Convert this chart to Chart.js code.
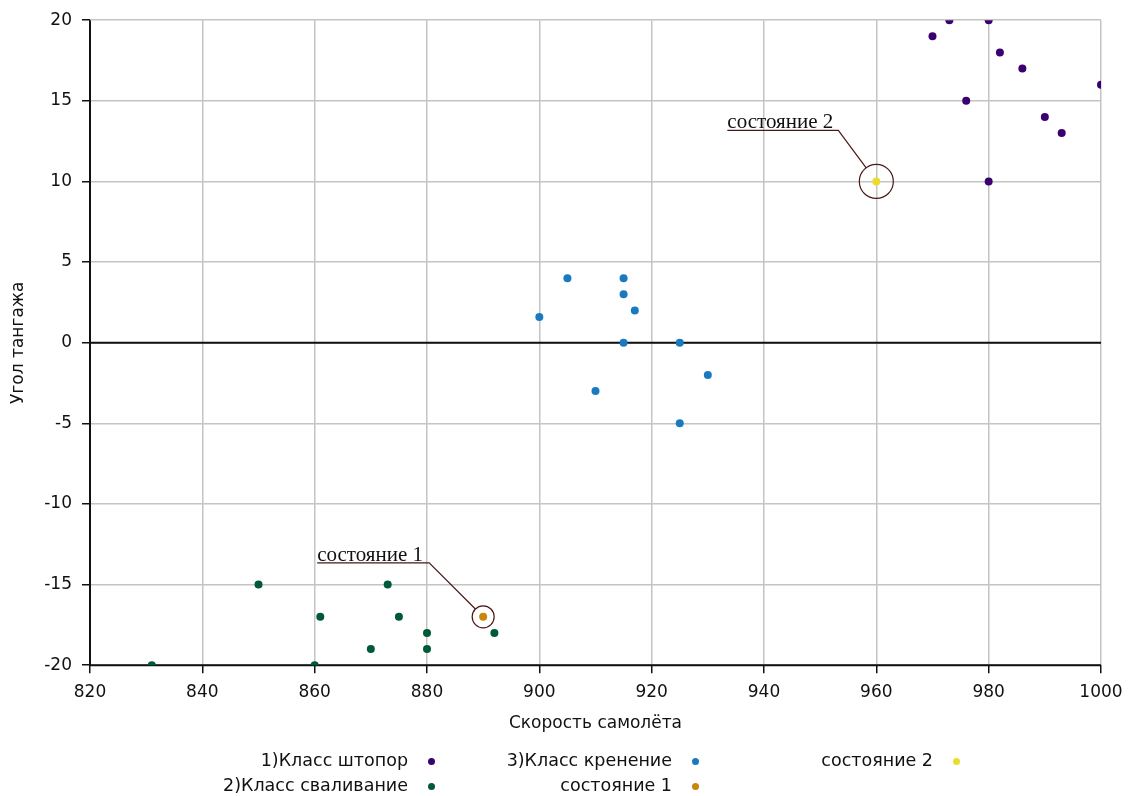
<!DOCTYPE html>
<html>
<head>
<meta charset="utf-8">
<script src="https://cdn.jsdelivr.net/npm/chart.js@4/dist/chart.umd.min.js"></script>
<style>
  html, body { margin: 0; padding: 0; background: #fff; }
  #wrap { position: relative; width: 1129px; height: 796px; }
  #legenda { position: absolute; left: 0; top: 748px; width: 1129px; height: 48px;
    font-family: "DejaVu Sans", sans-serif; font-size: 17.5px; color: #111; }
  .item { position: absolute; white-space: nowrap; text-align: right; }
  .dot { display: inline-block; width: 7px; height: 7px; border-radius: 50%; margin-left: 20px; vertical-align: middle; }
</style>
</head>
<body>
<div id="wrap">
  <canvas id="grafico" width="1129" height="796"></canvas>
  <div id="legenda"></div>
</div>
<script>
// данные классов (скорость, угол тангажа)
const shtoporX = [970, 973, 980, 982, 986, 1000, 976, 990, 993, 980];
const shtoporY = [19, 20, 20, 18, 17, 16, 15, 14, 13, 10];

const svalX = [831, 850, 873, 861, 875, 880, 870, 880, 892, 860];
const svalY = [-20, -15, -15, -17, -17, -18, -19, -19, -18, -20];

const krenX = [905, 915, 915, 917, 900, 915, 925, 930, 910, 925];
const krenY = [4, 4, 3, 2, 1.6, 0, 0, -2, -3, -5];

const sost1X = [890];
const sost1Y = [-17];
const sost2X = [960];
const sost2Y = [10];

const seriesNames = ['1)Класс штопор', '2)Класс сваливание', '3)Класс кренение', 'состояние 1', 'состояние 2'];
const seriesColors = ['#3a0070', '#005a38', '#1a7abf', '#c8860a', '#e8dc30'];

function pontos(xs, ys) {
  return xs.map((x, i) => ({ x: x, y: ys[i] }));
}

const datasets = [
  pontos(shtoporX, shtoporY),
  pontos(svalX, svalY),
  pontos(krenX, krenY),
  pontos(sost1X, sost1Y),
  pontos(sost2X, sost2Y)
].map((d, i) => ({
  label: seriesNames[i],
  data: d,
  backgroundColor: seriesColors[i],
  borderColor: seriesColors[i],
  pointRadius: 4,
  borderWidth: 0
}));

// выноски "состояние 1/2"
const annotPlugin = {
  id: 'vynoski',
  afterDatasetsDraw(chart) {
    const ctx = chart.ctx;
    const xs = chart.scales.x, ys = chart.scales.y;
    const notes = [
      { ds: 3, r: 11, dx: -54, dy: -54, w: 112 },
      { ds: 4, r: 17, dx: -38, dy: -51, w: 111 }
    ];
    notes.forEach(n => {
      const p = chart.data.datasets[n.ds].data[0];
      const cx = xs.getPixelForValue(p.x), cy = ys.getPixelForValue(p.y);
      ctx.save();
      ctx.strokeStyle = '#4a1818';
      ctx.lineWidth = 1.2;
      ctx.beginPath();
      ctx.arc(cx, cy, n.r, 0, Math.PI * 2);
      ctx.stroke();
      const ex = cx + n.dx, ey = cy + n.dy;
      const ang = Math.atan2(ey - cy, ex - cx);
      ctx.beginPath();
      ctx.moveTo(cx + Math.cos(ang) * n.r, cy + Math.sin(ang) * n.r);
      ctx.lineTo(ex, ey);
      ctx.lineTo(ex - n.w, ey);
      ctx.stroke();
      ctx.fillStyle = '#111';
      ctx.font = '21px "Liberation Serif", serif';
      ctx.textAlign = 'left';
      ctx.textBaseline = 'alphabetic';
      ctx.fillText(chart.data.datasets[n.ds].label, ex - n.w, ey - 2);
      ctx.restore();
    });
  }
};

// черные линии осей и нуля
const axesPlugin = {
  id: 'osi',
  beforeDatasetsDraw(chart) {
    const ctx = chart.ctx;
    const a = chart.chartArea;
    const y0 = chart.scales.y.getPixelForValue(0);
    ctx.save();
    ctx.strokeStyle = '#111';
    ctx.lineWidth = 2;
    ctx.beginPath();
    ctx.moveTo(a.left, a.top);
    ctx.lineTo(a.left, a.bottom);
    ctx.lineTo(a.right, a.bottom);
    ctx.moveTo(a.left, y0);
    ctx.lineTo(a.right, y0);
    ctx.stroke();
    ctx.restore();
  }
};

const tickFont = { family: '"DejaVu Sans", sans-serif', size: 17 };
const titleFont = { family: '"DejaVu Sans", sans-serif', size: 17 };

new Chart(document.getElementById('grafico'), {
  type: 'scatter',
  data: { datasets: datasets },
  options: {
    responsive: false,
    animation: false,
    layout: { padding: { top: 20, right: 28, left: 4, bottom: 58 } },
    plugins: {
      legend: { display: false },
      tooltip: { enabled: false }
    },
    scales: {
      x: {
        min: 820, max: 1000,
        ticks: { stepSize: 20, color: '#111', font: tickFont, padding: 9,
          callback: v => String(v) },
        grid: { color: '#c4c4c4', lineWidth: 1.5, tickLength: 8, tickColor: '#111' },
        border: { display: false },
        title: { display: true, text: 'Скорость самолёта', color: '#111',
          font: titleFont, padding: { top: 2 } },
        afterFit(scale) { scale.paddingRight = 0; scale.paddingLeft = 0; }
      },
      y: {
        min: -20, max: 20,
        ticks: { stepSize: 5, color: '#111', font: tickFont, padding: 10 },
        grid: { color: '#c4c4c4', lineWidth: 1.5, tickLength: 8, tickColor: '#111' },
        border: { display: false },
        title: { display: true, text: 'Угол тангажа', color: '#111',
          font: titleFont, padding: { bottom: 2 } },
        afterFit(scale) { scale.width = 86; }
      }
    }
  },
  plugins: [axesPlugin, annotPlugin]
});

// легенда в три колонки, как в оригинале
const legPos = [
  { right: 408, top: 2 },
  { right: 408, top: 27 },
  { right: 672, top: 2 },
  { right: 672, top: 27 },
  { right: 933, top: 2 }
];
const leg = document.getElementById('legenda');
datasets.forEach((d, i) => {
  const el = document.createElement('div');
  el.className = 'item';
  el.style.left = '0px';
  el.style.width = (legPos[i].right + 27) + 'px';
  el.style.top = legPos[i].top + 'px';
  el.innerHTML = d.label + '<span class="dot" style="background:' + d.backgroundColor + '"></span>';
  leg.appendChild(el);
});
</script>
</body>
</html>
